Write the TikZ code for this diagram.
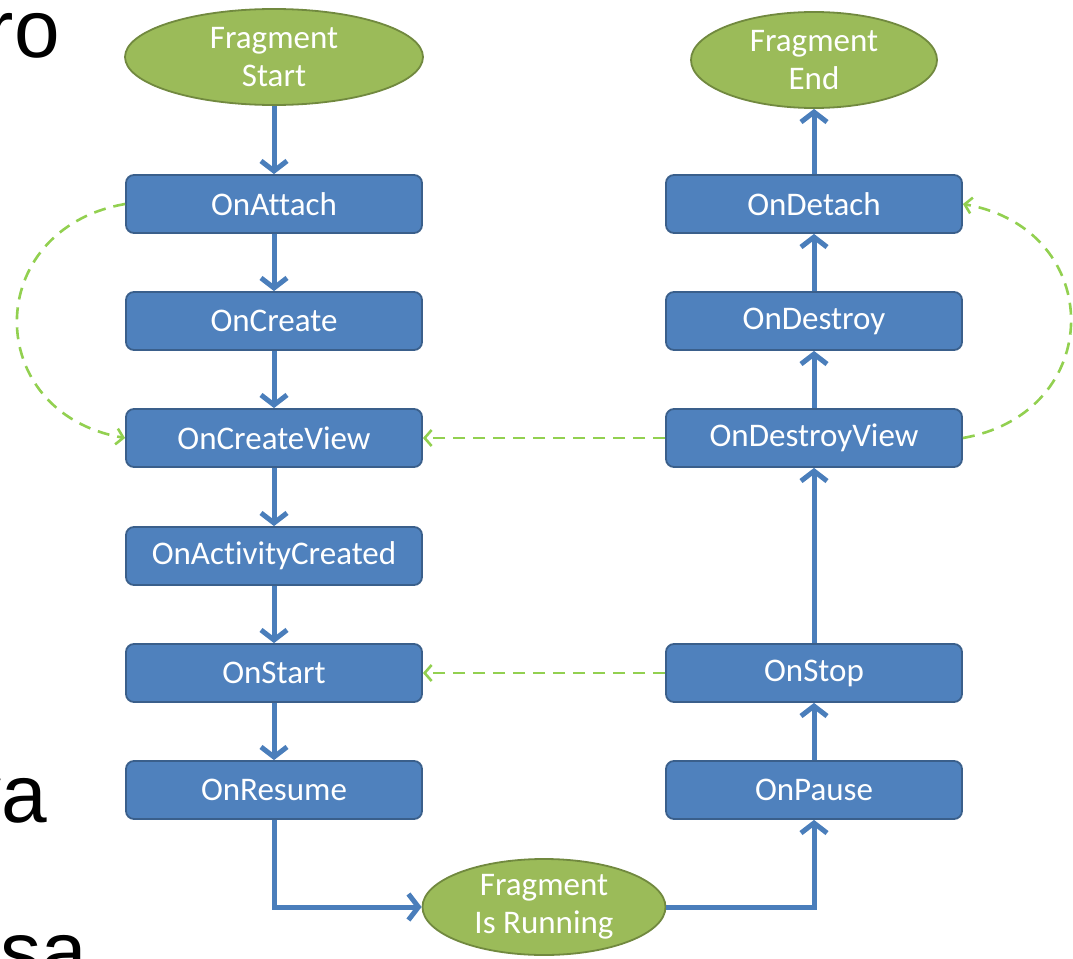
\documentclass[tikz,border=0pt]{standalone}
\usepackage{fontspec}
\setmainfont{Carlito}[Ligatures=NoCommon]
\newfontfamily\slidefont{Liberation Sans}
\usetikzlibrary{shapes.geometric,arrows.meta}
\definecolor{boxblue}{HTML}{4F81BD}
\definecolor{boxline}{HTML}{3A5F8B}
\definecolor{ovalgreen}{HTML}{9BBB59}
\definecolor{ovalline}{HTML}{71893F}
\definecolor{flowblue}{HTML}{4A7EBB}
\definecolor{backgreen}{HTML}{92D050}
\begin{document}
\begin{tikzpicture}[x=1pt,y=1pt,
    callback/.style={rectangle,rounded corners=8pt,draw=boxline,fill=boxblue,
      line width=1.8pt,minimum width=296pt,minimum height=58pt,inner sep=0pt,
      text=white,font=\fontsize{33}{38}\selectfont},
    state/.style={ellipse,draw=ovalline,fill=ovalgreen,line width=1.8pt,
      minimum height=96pt,inner sep=0pt,align=center,
      text=white,font=\fontsize{33}{38}\selectfont},
    flow/.style={draw=flowblue,line width=5pt,
      -{Straight Barb[length=10pt,width=26pt]}},
    back/.style={draw=backgreen,line width=2.6pt,dash pattern=on 12pt off 8pt,
      -{Straight Barb[length=7pt,width=16pt]}},
    slide/.style={anchor=base east,inner sep=0pt,
      font=\slidefont\fontsize{82}{90}\selectfont}]
  \useasboundingbox (0,0) rectangle (1073,-958);
  \clip (0,0) rectangle (1073,-958);
  % slide text behind the chart
  \node[slide] (ro) at (60,-58) {ro};
  \node[slide] (va) at (47,-822) {va};
  \node[slide] (ssa) at (87,-979) {ssa};
  % states and callbacks
  \path
    (274,-57) node[state,minimum width=298pt] (fstart) {Fragment\\Start}
    (274,-204) node[callback] (attach) {OnAttach}
    (274,-321) node[callback] (create) {OnCreate}
    (274,-438) node[callback] (cview) {OnCreateView}
    (274,-556) node[callback] (actcreated) {OnActivityCreated}
    (274,-673) node[callback] (onstart) {OnStart}
    (274,-790) node[callback] (resume) {OnResume}
    (544,-907) node[state,minimum width=243pt] (frun) {Fragment\\Is Running}
    (814,-790) node[callback] (pause) {OnPause}
    (814,-673) node[callback] (stop) {OnStop}
    (814,-438) node[callback] (dview) {OnDestroyView}
    (814,-321) node[callback] (destroy) {OnDestroy}
    (814,-204) node[callback] (detach) {OnDetach}
    (814,-60) node[state,minimum width=246pt] (fend) {Fragment\\End};
  \begin{scope}[flow]
    \draw (fstart) to (attach);
    \draw (attach) to (create);
    \draw (create) to (cview);
    \draw (cview) to (actcreated);
    \draw (actcreated) to (onstart);
    \draw (onstart) to (resume);
    \draw (resume.south) |- (frun.west);
    \draw (frun.east) -| (pause.south);
    \draw (pause) to (stop);
    \draw (stop) to (dview);
    \draw (dview) to (destroy);
    \draw (destroy) to (detach);
    \draw (detach) to (fend);
  \end{scope}
  \begin{scope}[back]
    \draw (attach.west) to[out=190,in=170,looseness=1.6] (cview.west);
    \draw (dview.east) to[out=10,in=-10,looseness=1.6] (detach.east);
    \draw (dview) to (cview);
    \draw (stop) to (onstart);
  \end{scope}
\end{tikzpicture}
\end{document}
